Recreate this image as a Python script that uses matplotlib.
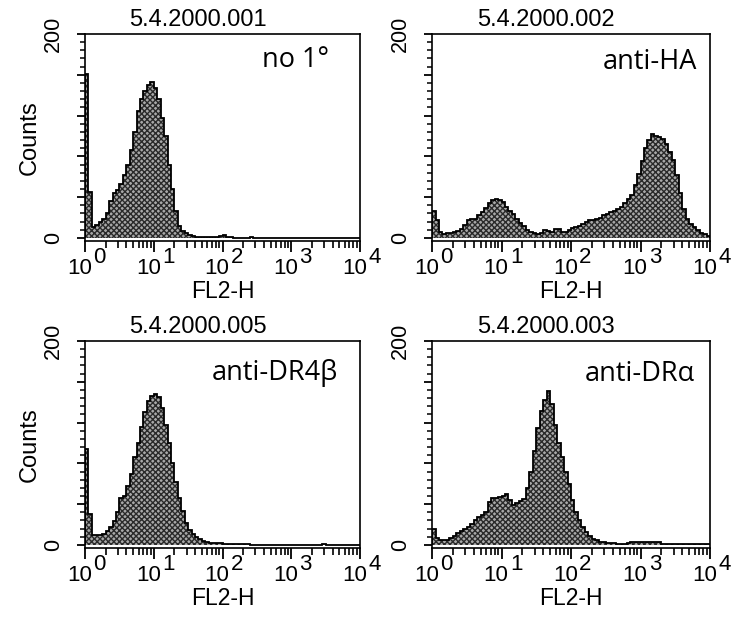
# Flow cytometry histograms, FL2-H staining, four samples
import numpy as np
import matplotlib
matplotlib.use("Agg")
import matplotlib.pyplot as plt
from matplotlib.ticker import FixedLocator, LogLocator, NullFormatter

# channel grid: 80 bins across 4 decades
decade_bins = 20
bin_edges = 10 ** np.linspace(0, 4, 4 * decade_bins + 1)

run_ids = ["5.4.2000.001", "5.4.2000.002", "5.4.2000.005", "5.4.2000.003"]
sample_labels = ["no 1°", "anti-HA", "anti-DR4β", "anti-DRα"]

counts_no_primary = [
    161, 45, 11, 13, 16, 19, 24, 36, 44, 47,
    53, 62, 72, 86, 104, 124, 136, 144, 150, 153,
    147, 136, 118, 100, 72, 48, 26, 12, 7, 5,
    3, 2, 1, 1, 1, 1, 1, 1, 1, 2,
    3, 1, 1, 0, 0, 0, 0, 0, 1, 0,
    0, 0, 0, 0, 0, 0, 0, 0, 0, 0,
    0, 0, 0, 0, 0, 0, 0, 0, 0, 0,
    0, 0, 0, 0, 0, 0, 0, 0, 0, 0,
]
counts_anti_ha = [
    26, 18, 6, 4, 5, 5, 6, 7, 9, 13,
    18, 19, 19, 22, 25, 29, 34, 37, 38, 37,
    35, 30, 26, 23, 19, 15, 12, 8, 6, 5,
    4, 5, 8, 7, 6, 9, 9, 6, 6, 8,
    10, 11, 12, 14, 16, 18, 18, 19, 20, 22,
    23, 25, 26, 28, 30, 34, 38, 42, 52, 63,
    75, 88, 96, 102, 100, 99, 97, 92, 84, 76,
    62, 44, 28, 19, 14, 11, 8, 5, 4, 2,
]
counts_anti_dr4b = [
    94, 30, 10, 10, 10, 11, 14, 18, 23, 32,
    46, 48, 58, 70, 86, 100, 116, 130, 141, 146,
    148, 145, 134, 118, 100, 80, 62, 46, 33, 22,
    15, 11, 8, 6, 4, 3, 2, 2, 2, 2,
    1, 1, 1, 1, 1, 1, 1, 1, 0, 0,
    0, 0, 0, 0, 0, 0, 0, 0, 0, 0,
    0, 0, 0, 0, 0, 0, 0, 0, 0, 1,
    0, 0, 0, 0, 0, 0, 0, 0, 0, 0,
]
counts_anti_dra = [
    16, 7, 5, 5, 5, 7, 9, 12, 14, 16,
    18, 21, 24, 27, 29, 32, 42, 46, 46, 47,
    48, 50, 44, 39, 41, 43, 45, 56, 72, 92,
    115, 131, 142, 151, 138, 118, 100, 86, 72, 60,
    44, 32, 24, 18, 13, 9, 6, 5, 3, 3,
    2, 2, 2, 1, 1, 1, 2, 3, 3, 3,
    3, 3, 3, 3, 3, 3, 1, 1, 1, 1,
    1, 1, 1, 1, 1, 1, 1, 1, 1, 1,
]
all_counts = [counts_no_primary, counts_anti_ha, counts_anti_dr4b, counts_anti_dra]

decades = [0, 1, 2, 3, 4]
y_major = [0, 40, 80, 120, 160, 200]
y_labels = ["0", "", "", "", "", "200"]

AXIS_FONT = "Liberation Sans"
LABEL_FONT = ["Open Sans", "DejaVu Sans"]

# axes rectangles in figure fraction (left, bottom, width, height)
panel_rects = [
    (0.1158, 0.6107, 0.3747, 0.3344),
    (0.5886, 0.6107, 0.3787, 0.3344),
    (0.1158, 0.1147, 0.3747, 0.3344),
    (0.5886, 0.1147, 0.3787, 0.3344),
]
# sample label: right edge / baseline offset from upper right corner, points
label_offsets = [(-22, -24), (-9, -25), (-16, -28), (-11, -29)]


def draw_panel(ax, counts, run_id, sample_label, label_offset, show_ylabel):
    ax.stairs(counts, bin_edges, fill=True, facecolor="#a8a8a8",
              edgecolor="#2a2a2a", hatch="xxxxxx", linewidth=0)
    ax.stairs(counts, bin_edges, color="black", linewidth=1.3)

    ax.set_xscale("log")
    ax.set_xlim(1, 1e4)
    ax.set_ylim(-3, 200)

    for side in ax.spines.values():
        side.set_linewidth(1.2)

    # x ticks: decades long, subdecades short, labels drawn by hand
    ax.xaxis.set_major_locator(FixedLocator([10 ** d for d in decades]))
    ax.xaxis.set_minor_locator(LogLocator(base=10, subs=np.arange(2, 10), numticks=20))
    ax.xaxis.set_major_formatter(NullFormatter())
    ax.xaxis.set_minor_formatter(NullFormatter())
    ax.tick_params(axis="x", which="major", length=8, width=1.3, direction="out")
    ax.tick_params(axis="x", which="minor", length=5, width=1.2, direction="out")

    ax.set_yticks(y_major, y_labels, rotation=90, va="center",
                  fontsize=15.5, family=AXIS_FONT)
    ax.yaxis.set_minor_locator(FixedLocator(np.arange(0, 201, 8)))
    ax.tick_params(axis="y", which="major", length=6, width=1.3, pad=9)
    ax.tick_params(axis="y", which="minor", length=3.5, width=1.1)

    xtrans = ax.get_xaxis_transform()
    for d in decades:
        ax.annotate("10", xy=(10 ** d, 0), xycoords=xtrans, xytext=(5, -24),
                    textcoords="offset points", ha="right", va="baseline",
                    fontsize=16, family=AXIS_FONT, annotation_clip=False)
        ax.annotate(str(d), xy=(10 ** d, 0), xycoords=xtrans, xytext=(6, -16),
                    textcoords="offset points", ha="left", va="baseline",
                    fontsize=16, family=AXIS_FONT, annotation_clip=False)

    ax.annotate("FL2-H", xy=(0.5, 0), xycoords="axes fraction", xytext=(0, -41),
                textcoords="offset points", ha="center", va="baseline",
                fontsize=16.5, family=AXIS_FONT)
    ax.annotate(run_id, xy=(0.41, 1), xycoords="axes fraction", xytext=(0, 10),
                textcoords="offset points", ha="center", va="center",
                fontsize=17, family=AXIS_FONT)
    if show_ylabel:
        ax.annotate("Counts", xy=(0, 0.5), xycoords="axes fraction", xytext=(-40, 0),
                    textcoords="offset points", ha="center", va="center",
                    rotation=90, fontsize=17, family=AXIS_FONT)

    ax.annotate(sample_label, xy=(1, 1), xycoords="axes fraction",
                xytext=label_offset, textcoords="offset points",
                ha="right", va="baseline", fontsize=19.5, family=LABEL_FONT)


def main() -> None:
    fig = plt.figure(figsize=(7.34, 6.19), dpi=100)
    for i in range(4):
        ax = fig.add_axes(panel_rects[i])
        draw_panel(ax, all_counts[i], run_ids[i], sample_labels[i],
                   label_offsets[i], show_ylabel=(i % 2 == 0))
    fig.savefig("out.png", dpi=100)


if __name__ == "__main__":
    main()
